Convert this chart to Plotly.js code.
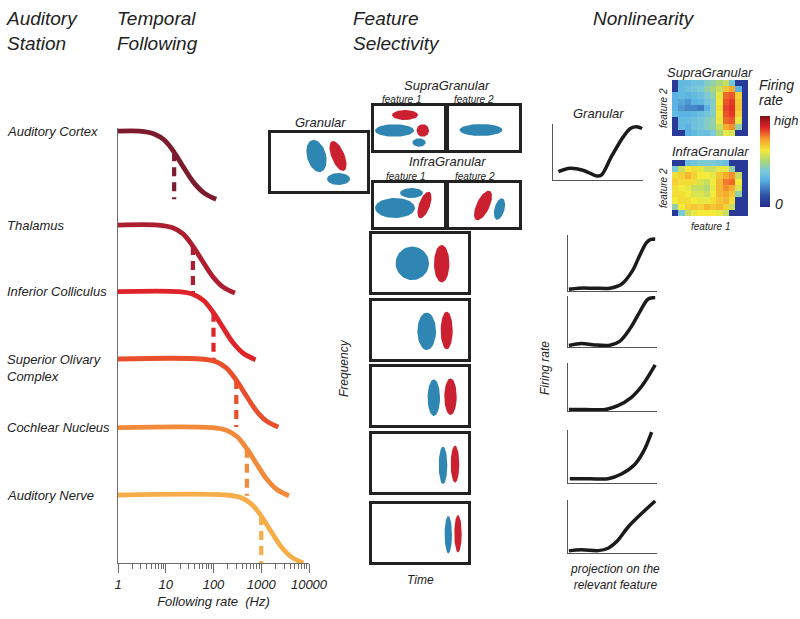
<!DOCTYPE html>
<html>
<head>
<meta charset="utf-8">
<script src="https://cdn.plot.ly/plotly-3.0.1.min.js"></script>
<style>html,body{margin:0;padding:0;background:#fff}#chart{width:800px;height:619px}</style>
</head>
<body>
<div id="chart"></div>
<script>
// ---- temporal following ----
var stations = ['Auditory Cortex', 'Thalamus', 'Inferior Colliculus', 'Superior Olivary<br>Complex', 'Cochlear Nucleus', 'Auditory Nerve'];
var stationColors = ['#7c1b2d', '#ac1e30', '#df2429', '#ea4f2b', '#f18b3b', '#f7ae49'];
var cutoffHz = [15, 37, 100, 300, 500, 1000];
var rateHz = [
    [1, 2.8, 5.7, 9.3, 15, 24, 39, 64, 114],
    [1, 6.8, 14, 23, 37, 60, 97, 157, 281],
    [1, 18.5, 38, 62, 100, 162, 262, 425, 760],
    [1, 55, 114, 185, 300, 486, 786, 1275, 2280],
    [1, 92, 190, 309, 500, 810, 1310, 2125, 3800],
    [1, 185, 381, 618, 1000, 1620, 2620, 4250, 7600]
];
var response = [
    [6.35, 6.35, 6.31, 6.22, 6.04, 5.81, 5.59, 5.44, 5.35],
    [4.97, 4.97, 4.93, 4.84, 4.66, 4.43, 4.21, 4.06, 3.97],
    [3.99, 3.99, 3.95, 3.86, 3.68, 3.45, 3.23, 3.08, 2.99],
    [3.00, 3.00, 2.96, 2.87, 2.69, 2.46, 2.24, 2.09, 2.00],
    [1.99, 1.99, 1.95, 1.86, 1.68, 1.45, 1.23, 1.08, 0.99],
    [1.00, 1.00, 0.96, 0.87, 0.69, 0.46, 0.24, 0.09, 0.00]
];
var cutoffTop = [6.04, 4.66, 3.68, 2.69, 1.68, 0.69];
var cutoffBottom = [5.35, 3.97, 2.99, 2.00, 0.99, 0.0];
var rateTicks = [1, 10, 100, 1000, 10000];
var rateTickText = ['1', '10', '100', '1000', '10000'];

// ---- feature selectivity: ellipses [cx, cy, rx, ry, angle, colour] ----
var granularEll = [[45.5, 35, 9.5, 16.5, 15, 'b'], [67, 35, 6.5, 16, 22, 'r'], [67.5, 12, 11.5, 6, 0, 'b']];
var supraF1Ell = [[31, 35, 13, 5, 0, 'r'], [20.5, 19.5, 19.5, 6.2, 0, 'b'], [48.8, 19.5, 6.2, 6.2, 0, 'r'], [45, 7.5, 6.7, 4.2, 0, 'b']];
var supraF2Ell = [[32, 20, 21.5, 6, 0, 'b']];
var infraF1Ell = [[21, 19, 20, 10, 0, 'b'], [37.5, 34, 11.5, 5, 0, 'b'], [50.5, 22, 5.5, 14, -20, 'r']];
var infraF2Ell = [[34, 21.5, 6.5, 16, -25, 'r'], [50.5, 18, 5, 11, -15, 'b']];
var stackEll = [
    [[40.3, 28.7, 16.7, 16.7, 0, 'b'], [69.7, 28.3, 7.7, 18.7, 0, 'r']],
    [[54.7, 27.7, 9.3, 18.7, 0, 'b'], [74.7, 28.5, 6, 18.8, 0, 'r']],
    [[61.8, 27.3, 6.2, 18.3, 0, 'b'], [78.5, 28.3, 6.2, 18.3, 0, 'r']],
    [[71, 26.7, 4.3, 18.7, 0, 'b'], [83, 27.8, 4.3, 18.5, 0, 'r']],
    [[76.3, 27.3, 3.7, 18.7, 0, 'b'], [86, 28.3, 3.7, 18.7, 0, 'r']]
];

// ---- nonlinearity curves ----
var nlGranX = [0.6, 1.9, 3.4, 4.9, 5.4, 6.5, 7.8, 8.6, 9.3, 9.9];
var nlGranY = [1.5, 2.1, 1.7, 0.7, 0.9, 4.2, 7.7, 9.2, 9.5, 9.2];
var nlX = [
    [0.1, 1.2, 3.0, 4.7, 6.0, 7.2, 8.1, 8.8, 9.3, 9.8],
    [0.1, 1.5, 3.0, 4.7, 5.8, 7.0, 8.1, 9.0, 9.8],
    [0.1, 2.0, 4.2, 5.6, 7.1, 8.3, 9.8],
    [0.2, 2.5, 4.5, 6.0, 7.5, 8.5, 9.4],
    [0.1, 1.5, 3.4, 4.5, 5.5, 6.8, 8.3, 9.8]
];
var nlY = [
    [0.3, 0.5, 0.5, 0.5, 1.2, 3.5, 6.5, 8.6, 9.2, 9.3],
    [0.3, 0.7, 0.4, 0.35, 1.1, 3.7, 7.0, 9.4, 9.7],
    [0.3, 0.3, 0.3, 1.1, 2.8, 5.2, 9.6],
    [0.8, 0.8, 0.8, 1.7, 3.5, 6.0, 9.6],
    [0.4, 0.6, 0.45, 0.9, 2.2, 5.0, 7.5, 9.8]
];

// ---- firing-rate maps (rows top to bottom) ----
var supraZ = [
    [0.05, 0.33, 0.33, 0.36, 0.36, 0.42, 0.45, 0.50, 0.55, 0.38, 0.05, 0.05],
    [0.05, 0.33, 0.36, 0.38, 0.40, 0.45, 0.50, 0.55, 0.68, 0.72, 0.30, 0.05],
    [0.30, 0.33, 0.30, 0.33, 0.36, 0.40, 0.45, 0.60, 0.80, 0.82, 0.66, 0.05],
    [0.30, 0.28, 0.25, 0.30, 0.32, 0.38, 0.42, 0.62, 0.82, 0.85, 0.68, 0.05],
    [0.30, 0.25, 0.22, 0.22, 0.20, 0.30, 0.42, 0.64, 0.84, 0.86, 0.68, 0.05],
    [0.33, 0.30, 0.30, 0.32, 0.35, 0.38, 0.42, 0.62, 0.82, 0.85, 0.66, 0.05],
    [0.05, 0.33, 0.33, 0.36, 0.38, 0.42, 0.45, 0.60, 0.80, 0.82, 0.60, 0.05],
    [0.05, 0.33, 0.30, 0.36, 0.38, 0.42, 0.45, 0.55, 0.72, 0.76, 0.45, 0.05],
    [0.05, 0.05, 0.30, 0.33, 0.36, 0.35, 0.40, 0.50, 0.60, 0.58, 0.05, 0.05]
];
var infraZ = [
    [0.05, 0.05, 0.35, 0.38, 0.40, 0.40, 0.40, 0.38, 0.35, 0.05, 0.05, 0.05],
    [0.40, 0.55, 0.62, 0.64, 0.60, 0.55, 0.55, 0.60, 0.60, 0.45, 0.05, 0.05],
    [0.64, 0.66, 0.70, 0.66, 0.62, 0.62, 0.60, 0.68, 0.72, 0.76, 0.55, 0.05],
    [0.66, 0.64, 0.64, 0.64, 0.58, 0.55, 0.62, 0.70, 0.78, 0.80, 0.62, 0.05],
    [0.64, 0.62, 0.60, 0.55, 0.55, 0.52, 0.60, 0.70, 0.76, 0.72, 0.58, 0.05],
    [0.64, 0.64, 0.62, 0.58, 0.58, 0.55, 0.62, 0.70, 0.72, 0.68, 0.45, 0.05],
    [0.62, 0.64, 0.64, 0.62, 0.60, 0.60, 0.64, 0.68, 0.70, 0.64, 0.05, 0.05],
    [0.45, 0.62, 0.66, 0.68, 0.66, 0.70, 0.68, 0.70, 0.66, 0.55, 0.05, 0.05],
    [0.05, 0.40, 0.55, 0.60, 0.62, 0.62, 0.62, 0.60, 0.55, 0.05, 0.05, 0.05]
];

var W = 800, H = 619;
var FONT = 'Liberation Sans, Arial, Helvetica, sans-serif';
var INK = '#222';
var BLUE = '#2f86b2', RED = '#cb2030';
// softened jet, as printed in the figure
var rateScale = [
    [0, '#262a8c'], [0.12, '#2d4ea6'], [0.3, '#5ab3e2'], [0.4, '#7cc9d8'],
    [0.5, '#a9d67c'], [0.62, '#f3ea3a'], [0.75, '#f59a2c'], [0.87, '#e3262a'], [1, '#7e1416']
];

function dx(a, b) { return [a / W, b / W]; }
function dy(top, bottom) { return [1 - bottom / H, 1 - top / H]; }

var data = [];
var layout = {
    width: W, height: H,
    margin: {l: 0, r: 0, t: 0, b: 0},
    paper_bgcolor: '#fff', plot_bgcolor: 'rgba(0,0,0,0)',
    showlegend: false,
    font: {family: FONT, color: INK},
    annotations: []
};

// temporal following axes
var minorTicks = [];
for (var d = 1; d < 10000; d *= 10) {
    for (var m = 2; m < 10; m++) minorTicks.push(m * d);
}
layout.xaxis = {
    domain: dx(118, 309), type: 'log', range: [0, 4],
    showline: true, linecolor: '#6b6b6b', linewidth: 1.2,
    showgrid: false, zeroline: false,
    tickvals: rateTicks, ticktext: rateTickText,
    ticks: 'outside', ticklen: 9, tickcolor: '#6b6b6b', tickwidth: 1,
    tickfont: {family: FONT, size: 13, style: 'italic', color: INK},
    minor: {tickvals: minorTicks, ticks: 'outside', ticklen: 5, tickcolor: '#6b6b6b', tickwidth: 1},
    title: {text: 'Following rate&nbsp; (Hz)', standoff: 6, font: {family: FONT, size: 13, style: 'italic', color: INK}},
    anchor: 'y', fixedrange: true
};
layout.yaxis = {
    domain: dy(127.8, 563), range: [0, 6.4],
    showline: true, linecolor: '#6b6b6b', linewidth: 1.2,
    showgrid: false, zeroline: false, showticklabels: false, ticks: '',
    anchor: 'x', fixedrange: true
};

for (var i = 0; i < stations.length; i++) {
    data.push({
        x: rateHz[i], y: response[i], xaxis: 'x', yaxis: 'y',
        type: 'scatter', mode: 'lines',
        line: {color: stationColors[i], width: 4.8, shape: 'spline', smoothing: 1},
        hoverinfo: 'skip'
    });
    data.push({
        x: [cutoffHz[i], cutoffHz[i]], y: [cutoffTop[i], cutoffBottom[i]],
        xaxis: 'x', yaxis: 'y', type: 'scatter', mode: 'lines',
        line: {color: stationColors[i], width: 4.2, dash: '9px,6px'},
        hoverinfo: 'skip'
    });
    layout.annotations.push({
        text: stations[i], xref: 'paper', yref: 'y', x: 5 / W, y: response[i][0],
        xanchor: 'left', yanchor: i === 3 ? 'top' : 'middle', yshift: i === 3 ? 9 : 0,
        align: 'left', showarrow: false,
        font: {family: FONT, size: 13, style: 'italic', color: INK}
    });
}

// feature selectivity boxes
var axisN = 2;
function boxPanel(ellipses, left, right, top, bottom) {
    var n = axisN++;
    layout['xaxis' + n] = {
        domain: dx(left, right), range: [0, right - left], anchor: 'y' + n,
        showline: true, mirror: true, linecolor: INK, linewidth: 2.6,
        showgrid: false, zeroline: false, showticklabels: false, ticks: '', fixedrange: true
    };
    layout['yaxis' + n] = {
        domain: dy(top, bottom), range: [0, bottom - top], anchor: 'x' + n,
        showline: true, mirror: true, linecolor: INK, linewidth: 2.6,
        showgrid: false, zeroline: false, showticklabels: false, ticks: '', fixedrange: true
    };
    ellipses.forEach(function (e) {
        var xs = [], ys = [], a = e[4] * Math.PI / 180;
        for (var k = 0; k <= 60; k++) {
            var t = 2 * Math.PI * k / 60;
            var ex = e[2] * Math.cos(t), ey = e[3] * Math.sin(t);
            xs.push(e[0] + ex * Math.cos(a) - ey * Math.sin(a));
            ys.push(e[1] + ex * Math.sin(a) + ey * Math.cos(a));
        }
        data.push({
            x: xs, y: ys, xaxis: 'x' + n, yaxis: 'y' + n,
            type: 'scatter', mode: 'lines', fill: 'toself',
            fillcolor: e[5] === 'b' ? BLUE : RED, line: {width: 0},
            hoverinfo: 'skip'
        });
    });
}
boxPanel(granularEll, 271, 367, 133, 191);
boxPanel(supraF1Ell, 374, 444, 106, 150);
boxPanel(supraF2Ell, 449, 519, 106, 150);
boxPanel(infraF1Ell, 374, 444, 183, 227);
boxPanel(infraF2Ell, 449, 519, 183, 227);
var stackRows = [[234, 292], [301, 359], [367, 425], [434, 492], [504, 562]];
for (var s = 0; s < stackEll.length; s++) {
    boxPanel(stackEll[s], 372, 468, stackRows[s][0], stackRows[s][1]);
}

// nonlinearity panels
function nlPanel(xs, ys, left, right, top, bottom) {
    var n = axisN++;
    layout['xaxis' + n] = {
        domain: dx(left, right), range: [0, 10], anchor: 'y' + n,
        showline: true, linecolor: '#555', linewidth: 1,
        showgrid: false, zeroline: false, showticklabels: false, ticks: '', fixedrange: true
    };
    layout['yaxis' + n] = {
        domain: dy(top, bottom), range: [0, 10], anchor: 'x' + n,
        showline: true, linecolor: '#555', linewidth: 1,
        showgrid: false, zeroline: false, showticklabels: false, ticks: '', fixedrange: true
    };
    data.push({
        x: xs, y: ys, xaxis: 'x' + n, yaxis: 'y' + n,
        type: 'scatter', mode: 'lines',
        line: {color: '#1b1b1b', width: 3.5, shape: 'spline', smoothing: 0.9},
        hoverinfo: 'skip'
    });
}
nlPanel(nlGranX, nlGranY, 553, 643, 124, 180);
var nlRows = [[235, 291], [296, 347], [363, 411], [430, 483], [500, 553]];
for (var r = 0; r < nlX.length; r++) {
    nlPanel(nlX[r], nlY[r], 568, 657, nlRows[r][0], nlRows[r][1]);
}

// firing-rate maps
function mapPanel(z, top, bottom, withScale) {
    var n = axisN++;
    layout['xaxis' + n] = {domain: dx(672, 748), range: [-0.5, z[0].length - 0.5], anchor: 'y' + n, visible: false, fixedrange: true};
    layout['yaxis' + n] = {domain: dy(top, bottom), range: [z.length - 0.5, -0.5], anchor: 'x' + n, visible: false, fixedrange: true};
    var tr = {
        z: z, type: 'heatmap', xaxis: 'x' + n, yaxis: 'y' + n, zsmooth: false,
        colorscale: rateScale, zmin: 0, zmax: 1, showscale: withScale, hoverinfo: 'skip'
    };
    if (withScale) {
        tr.colorbar = {
            x: 760 / W, xanchor: 'left', y: 1 - 161.5 / H, yanchor: 'middle',
            len: 91 / H, lenmode: 'fraction', thickness: 10, thicknessmode: 'pixels',
            outlinewidth: 0, showticklabels: false, ticks: '', xpad: 0, ypad: 0
        };
    }
    data.push(tr);
}
mapPanel(supraZ, 80, 136, true);
mapPanel(infraZ, 160, 216, false);

// text labels
function note(text, px, py, size, anchor, angle) {
    layout.annotations.push({
        text: text, xref: 'paper', yref: 'paper', x: px / W, y: 1 - py / H,
        xanchor: anchor || 'center', yanchor: 'middle', align: anchor === 'left' ? 'left' : 'center',
        textangle: angle || 0, showarrow: false,
        font: {family: FONT, size: size, style: 'italic', color: INK}
    });
}
note('Auditory<br>Station', 4, 31, 19, 'left');
note('Temporal<br>Following', 115, 31, 19, 'left');
note('Feature<br>Selectivity', 351, 31, 19, 'left');
note('Nonlinearity', 591, 19, 19, 'left');

note('Granular', 320, 122, 13);
note('SupraGranular', 447, 86, 13);
note('feature 1', 402, 99, 10);
note('feature 2', 474, 99, 10);
note('InfraGranular', 447, 161, 13);
note('feature 1', 405, 176, 10);
note('feature 2', 475, 176, 10);
note('Frequency', 344, 368, 12, 'center', -90);
note('Time', 420, 580, 12);

note('Granular', 598, 114, 13);
note('Firing rate', 545, 368, 12, 'center', -90);
note('projection on the<br>relevant feature', 615, 577, 12);

note('SupraGranular', 710, 72, 13);
note('InfraGranular', 710, 152, 13);
note('feature 2', 663, 108, 10, 'center', -90);
note('feature 2', 663, 188, 10, 'center', -90);
note('feature 1', 710, 226, 10);
note('Firing', 757, 85, 14, 'left');
note('rate', 757, 100, 14, 'left');
note('high', 772, 120, 13, 'left');
note('0', 773, 204, 14, 'left');

var config = {responsive: false, displayModeBar: false, staticPlot: true};
Plotly.newPlot('chart', data, layout, config);
</script>
</body>
</html>
